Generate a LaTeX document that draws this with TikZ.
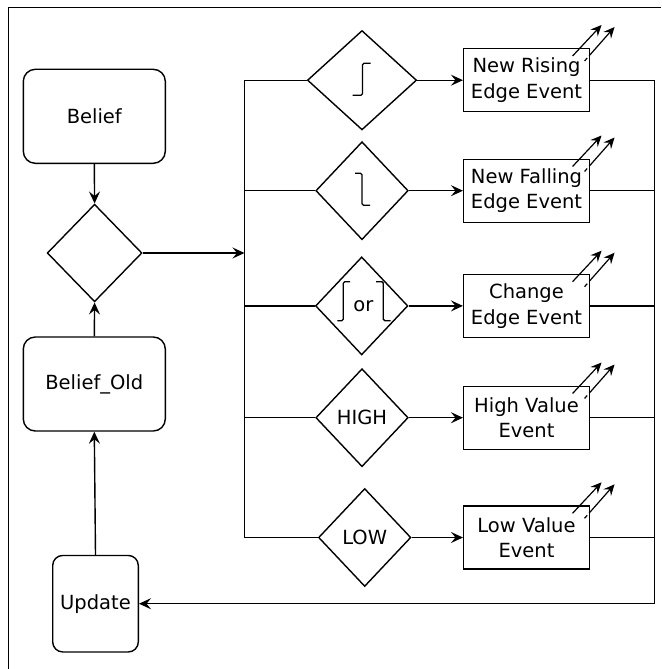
\documentclass[tikz,border=0pt]{standalone}
\usepackage{fontspec}
\setmainfont{DejaVu Sans}
\usetikzlibrary{arrows.meta,shapes.geometric}

\begin{document}
\begin{tikzpicture}[x=1pt,y=-1pt,line width=1.4pt,
  every node/.style={font=\fontsize{19.5}{25.5}\selectfont},
  rbox/.style={draw,rounded corners=12pt,minimum width=142pt,minimum height=94pt,inner sep=0pt},
  ubox/.style={draw,rounded corners=10pt,minimum width=85.6pt,minimum height=96.5pt,inner sep=0pt},
  ebox/.style={draw,minimum width=125.7pt,minimum height=63pt,align=center,inner sep=0pt},
  test/.style={draw,diamond,minimum width=92.4pt,minimum height=98pt,inner sep=0pt},
  arr/.style={-{Stealth[length=12pt,width=11pt,inset=4.5pt]}},
  fan/.style={-{Stealth[length=11pt,width=10pt,inset=4pt]},line width=1.2pt},
  sig/.style={line width=1.3pt,rounded corners=1.5pt}]

\useasboundingbox (0,0) rectangle (661,669);
% outer frame
\draw (661,7.5) -- (8.3,7.5) -- (8.3,669);

% left column
\node[rbox] (belief) at (94.3,116.3) {Belief};
\node[test,minimum width=94.8pt,minimum height=97.6pt] (dec) at (94.6,253) {};
\node[rbox] (old) at (94.3,384) {Belief\_Old};
\node[ubox] (update) at (95.5,603.7) {Update};

\draw[arr] (belief.south) -- (dec.north);
\draw[arr] (old.north) -- (dec.south);
\draw[arr] (update.north) -- (old.south);

% distribution bus
\coordinate (b1) at (244.5,80.2);
\coordinate (b2) at (244.5,190.7);
\coordinate (b3) at (244.5,305.9);
\coordinate (b4) at (244.5,417.7);
\coordinate (b5) at (244.5,537.5);
\coordinate (bm) at (244.5,253);
\draw (b1) -- (b5);
\draw[arr] (dec.east) -- (bm);

% condition tests
\node[test,minimum width=109.2pt,minimum height=99.4pt] (d1) at (362,80.2) {};
\node[test] (d2) at (362,190.7) {};
\node[test] (d3) at (361.7,305.9) {};
\node[test] (d4) at (362,417.7) {HIGH};
\node[test] (d5) at (364.7,537.5) {LOW};

% edge symbols
\draw[sig,shift={(d1.center)}] (-9.5,15) -- (0.5,15) -- (0.5,-17) -- (8.5,-17);
\draw[sig,shift={(d2.center)}] (-7,-17.4) -- (0,-17.4) -- (0,14.6) -- (8,14.6);
\draw[sig,shift={(d3.center)}] (-24.4,14.8) -- (-18.4,14.8) -- (-18.4,-24.2) -- (-11.7,-24.2);
\draw[sig,shift={(d3.center)}] (14.3,-24.2) -- (21.6,-24.2) -- (21.6,14.8) -- (28.9,14.8);
\node (or) at ([xshift=1.6pt]d3.center) {or};

% events
\node[ebox] (e1) at (526.5,80.2) {New Rising\\Edge Event};
\node[ebox] (e2) at (526.5,190.7) {New Falling\\Edge Event};
\node[ebox] (e3) at (526.5,305.9) {Change\\Edge Event};
\node[ebox] (e4) at (526.5,417.7) {High Value\\Event};
\node[ebox] (e5) at (526.5,537.5) {Low Value\\Event};

% return path
\coordinate (r1) at (654.7,80.2);
\coordinate (r2) at (654.7,190.7);
\coordinate (r3) at (654.7,305.9);
\coordinate (r4) at (654.7,417.7);
\coordinate (r5) at (654.7,537.5);
\coordinate (rb) at (654.7,603.7);

\foreach \i in {1,...,5}{
  \draw (b\i) -- (d\i.west);
  \draw[arr] (d\i.east) -- (e\i.west);
  \draw (e\i.east) -- (r\i);
  \draw[fan,shift={(e\i.north east)}] (-17.5,8) -- (11.5,-23);
  \draw[fan,shift={(e\i.north east)},dash pattern=on 4pt off 3pt on 100pt] (-5.5,13) -- (24.5,-21);
}
\draw (r1) -- (rb);
\draw[arr] (rb) -- (update.east);
\end{tikzpicture}
\end{document}
